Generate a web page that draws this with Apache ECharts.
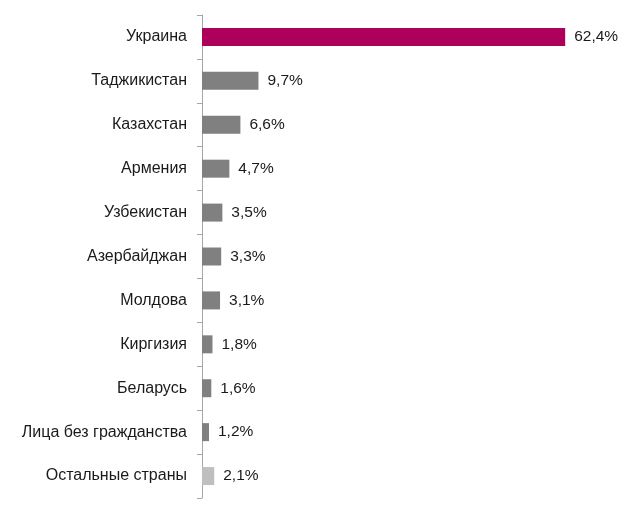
<!DOCTYPE html>
<html><head><meta charset="utf-8">
<script src="https://cdn.jsdelivr.net/npm/echarts@6/dist/echarts.min.js"></script>
<style>html,body{margin:0;padding:0;background:#fff}#c{width:640px;height:512px}</style>
</head><body><div id="c"></div>
<script>
const categories = ["Украина","Таджикистан","Казахстан","Армения","Узбекистан","Азербайджан","Молдова","Киргизия","Беларусь","Лица без гражданства","Остальные страны"];
const values = [62.4, 9.7, 6.6, 4.7, 3.5, 3.3, 3.1, 1.8, 1.6, 1.2, 2.1];
const barColors = ["#AD005B","#808080","#808080","#808080","#808080","#808080","#808080","#808080","#808080","#808080","#BFBFBF"];

const chart = echarts.init(document.getElementById('c'), null, {renderer:'canvas'});
chart.setOption({
  animation:false,
  textStyle:{fontFamily:'Liberation Sans, Arial, sans-serif'},
  grid:{left:202, top:15, height:483, width:407.4},
  xAxis:{type:'value', min:0, max:70, show:false},
  yAxis:{type:'category', data:categories, inverse:true,
    axisLine:{show:true, lineStyle:{color:'#A6A6A6', width:1}},
    axisTick:{show:true, inside:false, length:5, lineStyle:{color:'#A6A6A6'}},
    axisLabel:{margin:15, fontSize:16, color:'#1a1a1a', fontFamily:'Liberation Sans, Arial, sans-serif'}},
  series:[{type:'bar', barWidth:18,
    data: values.map((v,i)=>({value:v, itemStyle:{color:barColors[i]}})),
    label:{show:true, position:'right', distance:9, fontSize:15.5, color:'#1a1a1a',
      fontFamily:'Liberation Sans, Arial, sans-serif',
      formatter:p=>p.value.toFixed(1).replace('.',',')+'%'}
  }]
});
</script></body></html>
